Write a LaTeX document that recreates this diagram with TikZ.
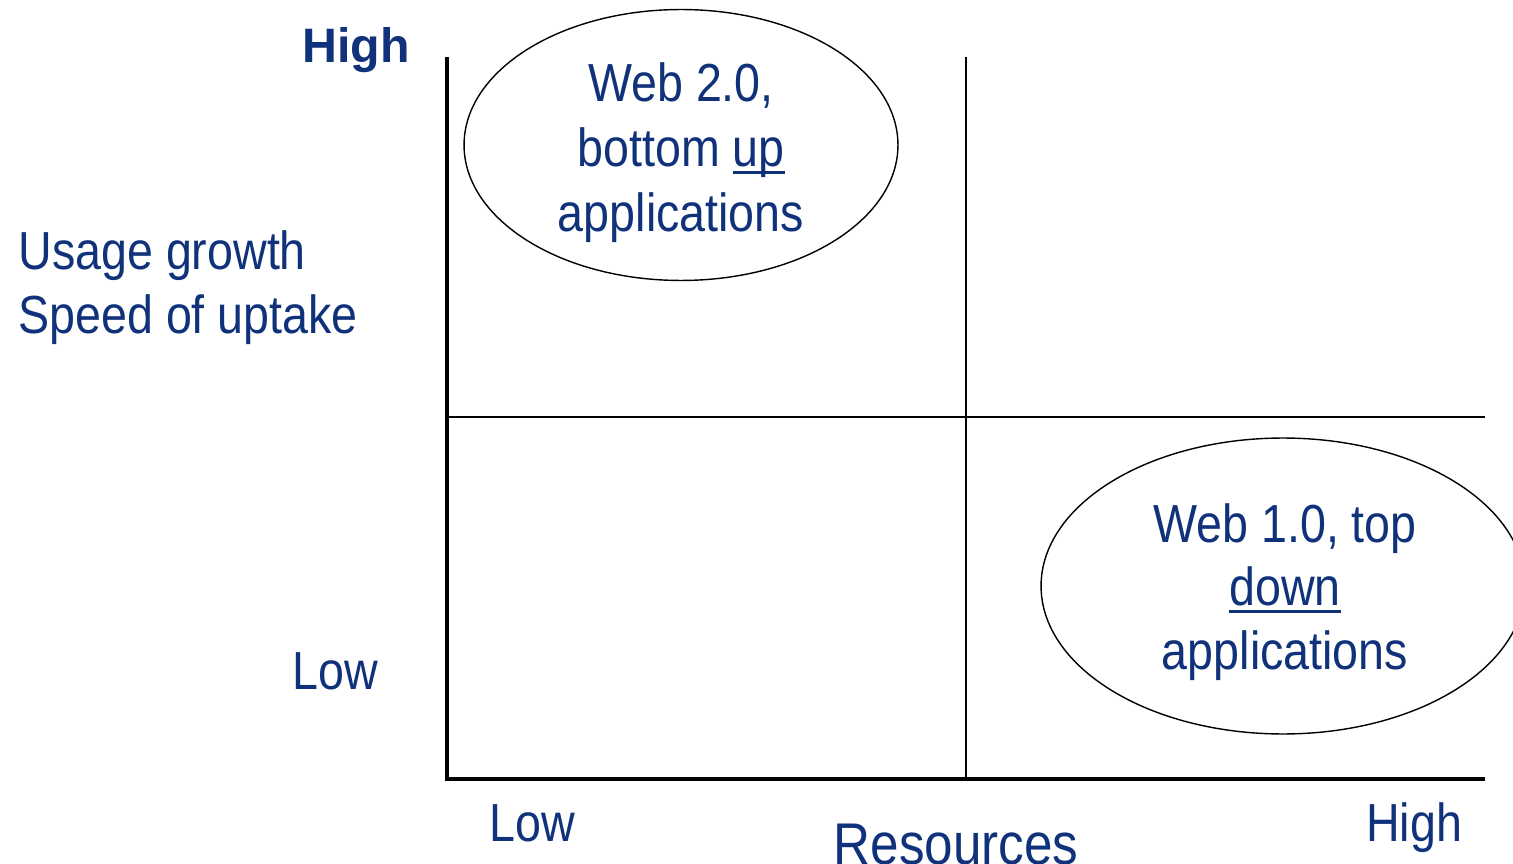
\documentclass[tikz,border=0pt]{standalone}
\usepackage{fontspec}
\setmainfont{Liberation Sans}
\newfontfamily\narrowsf[FakeStretch=0.87]{Liberation Sans}
\usepackage{xcolor}
\usepackage{tikz}
\usetikzlibrary{shapes.geometric}
\definecolor{labelblue}{RGB}{16,50,122}

\newsavebox\ulbox
\newcommand{\undl}[1]{\sbox\ulbox{#1}\rlap{\rule[-0.14em]{\wd\ulbox}{0.06em}}\usebox\ulbox}

\tikzset{
    axislbl/.style={text=labelblue, font=\narrowsf\fontsize{30.5}{36.4}\selectfont, inner sep=0pt},
    toplbl/.style={text=labelblue, font=\bfseries\fontsize{27.5}{33}\selectfont, inner sep=0pt},
    bubble/.style={draw, ellipse, line width=0.8pt, inner sep=0pt},
}

\begin{document}
\begin{tikzpicture}[x=0.02cm, y=-0.02cm]
    \useasboundingbox (0,0) rectangle (1513,864);

    % Axes and quadrant lines
    \coordinate (ytop) at (447,57);
    \coordinate (origin) at (447,779);
    \coordinate (xend) at (1485,779);
    \coordinate (midtop) at (966,57);
    \coordinate (midbot) at (966,779);
    \coordinate (midleft) at (447,417);
    \coordinate (midright) at (1485,417);
    \draw[line width=1.1pt] (midtop) -- (midbot);
    \draw[line width=1.1pt] (midleft) -- (midright);
    \draw[line width=2.8pt] (ytop) -- (origin) -- (xend);

    % Vertical axis labels
    \node[toplbl, anchor=base] (yhigh) at (356,63) {High};
    \node[axislbl, anchor=base west] (yname1) at (18,270) {Usage growth};
    \node[axislbl, anchor=base west] (yname2) at (18,334) {Speed of uptake};
    \node[axislbl, anchor=base] (ylow) at (335,689) {Low};

    % Horizontal axis labels
    \node[axislbl, anchor=base] (xlow) at (532,841) {Low};
    \node[axislbl, anchor=base, font=\narrowsf\fontsize{33.5}{40}\selectfont] (xname) at (956,864) {Resources};
    \node[axislbl, anchor=base] (xhigh) at (1414,841) {High};

    % Web 2.0 bubble
    \node[bubble, minimum width=8.68cm, minimum height=5.42cm] (web2) at (681,145) {};
    \foreach \i/\txt in {0/{Web 2.0,},1/{bottom \undl{up}},2/{applications}} {
        \node[axislbl, anchor=base] (web2l\i) at (681,102+\i*65) {\txt};
    }

    % Web 1.0 bubble
    \node[bubble, minimum width=9.68cm, minimum height=5.92cm] (web1) at (1283,586) {};
    \foreach \i/\txt in {0/{Web 1.0, top},1/{\undl{down}},2/{applications}} {
        \node[axislbl, anchor=base] (web1l\i) at (1285,542+\i*63.5) {\txt};
    }
\end{tikzpicture}
\end{document}
